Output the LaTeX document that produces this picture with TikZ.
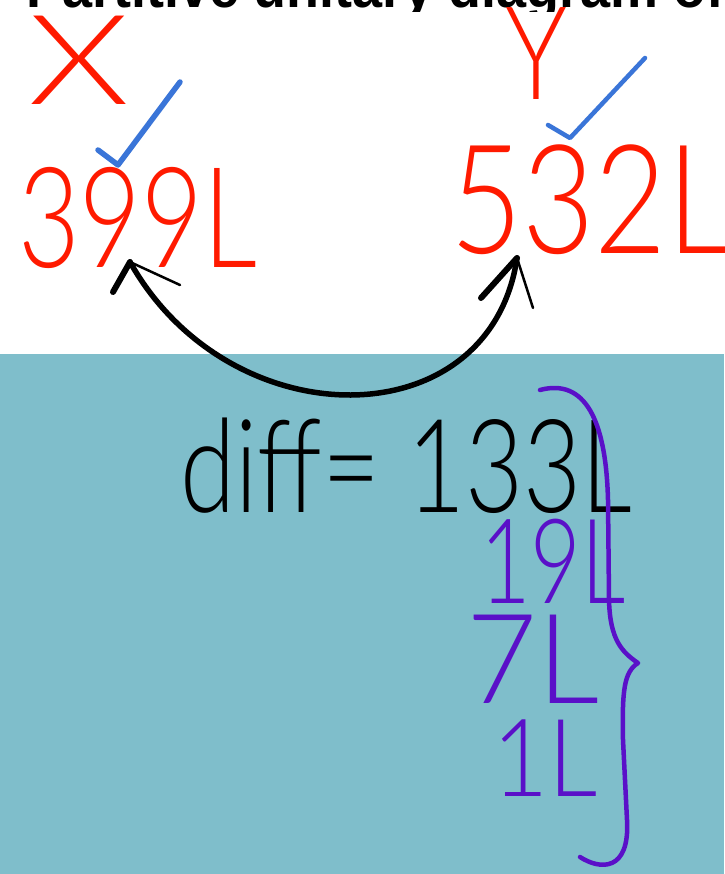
\documentclass[tikz,border=0pt]{standalone}
\usepackage{fontspec}
\setmainfont{Liberation Sans}
\newfontfamily\handfont{Lato Light}
\usetikzlibrary{arrows.meta}
\definecolor{tealbg}{HTML}{7FBECB}
\definecolor{inkred}{HTML}{FF1A00}
\definecolor{inkblue}{HTML}{3A75D8}
\definecolor{inkpurple}{HTML}{5A10C8}
\tikzset{
  hand/.style={inner sep=0pt, anchor=base west, font=\handfont},
  tick/.style={draw=inkblue, line width=5.5pt, line cap=round, line join=round},
  swap/.style={draw=black, line width=5.5pt, line cap=round},
  barbthick/.style={draw=black, line width=6pt, line cap=round},
  barbthin/.style={draw=black, line width=2.5pt, line cap=round},
  brace/.style={draw=inkpurple, line width=4.5pt, line cap=round, line join=round}
}
\begin{document}
\begin{tikzpicture}[x=1pt,y=-1pt]
\useasboundingbox (0,0) rectangle (724,874);
\fill[white] (0,0) rectangle (724,354);
\fill[tealbg] (0,354) rectangle (724,874);
% cut-off heading
\begin{scope}
\clip (0,0) rectangle (724,12);
\node[inner sep=0pt, anchor=base west] (head) at (26,8) {\fontsize{58}{60}\selectfont\bfseries\scalebox{0.93}[1]{Partitive unitary diagram of}};
\end{scope}
% labels
\node[hand, text=inkred] (X) at (28,105) {\fontsize{125}{125}\selectfont\scalebox{1.3}[1]{X}};
\node[hand, text=inkred] (Y) at (505,100) {\fontsize{130}{130}\selectfont\scalebox{0.8}[1]{Y}};
\node[hand, text=inkred] (a) at (18,268) {\fontsize{140}{140}\selectfont\scalebox{0.76}[1]{399L}};
\node[hand, text=inkred] (b) at (450,254) {\fontsize{152}{152}\selectfont\scalebox{0.82}[1]{532L}};
% ticks
\draw[tick] (98,150) -- (118,165) -- (180,82);
\draw[tick, line width=4.5pt] (548,125) -- (570,138) -- (645,58);
% double arrow
\coordinate (ta) at (130,262);
\coordinate (tb) at (517,258);
\draw[swap] (ta) .. controls (230,440) and (490,440) .. (tb);
\draw[barbthick] (ta) -- ++(-17,30);
\draw[barbthin] (ta) -- ++(50,23);
\draw[barbthick] (tb) -- ++(-36,40);
\draw[barbthin] (tb) -- ++(16,50);
% difference
\node[hand] (d) at (180,512) {\fontsize{130}{130}\selectfont\scalebox{0.77}[1]{diff= 133L}};
\node[hand, text=inkpurple] (p1) at (480,603) {\fontsize{118}{118}\selectfont\scalebox{0.74}[1]{19L}};
\node[hand, text=inkpurple] (p2) at (466,703) {\fontsize{125}{125}\selectfont\scalebox{0.98}[1]{7L}};
\node[hand, text=inkpurple] (p3) at (492,796) {\fontsize{108}{108}\selectfont\scalebox{0.9}[1]{1L}};
% brace
\draw[brace] (540,390) .. controls (585,378) and (606,420) .. (608,500)
  -- (609,600) .. controls (610,640) and (622,652) .. (638,663)
  .. controls (624,672) and (622,690) .. (623,740)
  -- (627,820) .. controls (630,872) and (600,870) .. (580,857);
\end{tikzpicture}
\end{document}
